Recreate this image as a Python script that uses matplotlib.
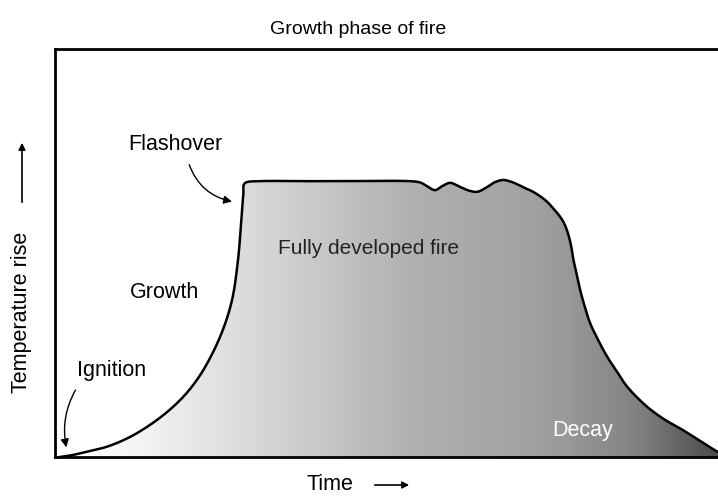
import numpy as np
import matplotlib
matplotlib.use("Agg")
import matplotlib.pyplot as plt
from matplotlib.colors import LinearSegmentedColormap

plt.rcParams['font.family'] = ['Liberation Sans', 'DejaVu Sans']

# fire curve (time 0-100, temperature rise 0-100)
time = [0.75, 2.7, 5.3, 7.8, 11.3, 15.4, 18.9, 21.4, 23.4, 25.3, 26.7, 27.6, 28.1, 28.4, 28.7,
        30.9, 37.0, 44.5, 54.8, 55.8, 57.3, 58.4, 59.6, 60.8, 62.6, 63.7, 64.9, 66.4, 67.6,
        68.9, 70.9, 72.1, 73.9, 75.1, 76.5, 77.2, 77.8, 78.1, 78.7, 79.2, 79.9, 80.7, 81.9,
        83.3, 84.8, 86.3, 89.3, 92.0, 94.7, 97.3, 100.0, 101.5]
temp = [0.0, 0.5, 1.5, 2.5, 4.9, 9.1, 14.0, 18.9, 24.3, 31.1, 38.5, 48.3, 58.1, 64.2, 67.2,
        67.6, 67.6, 67.6, 67.4, 66.7, 65.4, 66.4, 67.2, 66.4, 65.2, 65.0, 65.9, 67.4, 67.9,
        67.4, 65.9, 65.0, 63.0, 61.0, 58.1, 55.6, 52.0, 49.0, 44.6, 40.9, 36.8, 32.8, 28.7,
        24.5, 20.8, 17.2, 12.3, 9.1, 6.6, 3.9, 1.2, 0.0]


def smooth(xs, ys, n=12):
    # centripetal catmull-rom through the read points, just for a rounder line
    p = np.column_stack([xs, ys]).astype(float)
    p = np.vstack([p[0], p, p[-1]])
    out = []
    for i in range(1, len(p) - 2):
        p0, p1, p2, p3 = p[i - 1], p[i], p[i + 1], p[i + 2]
        t0 = 0.0
        t1 = t0 + max(np.linalg.norm(p1 - p0), 1e-6) ** 0.5
        t2 = t1 + max(np.linalg.norm(p2 - p1), 1e-6) ** 0.5
        t3 = t2 + max(np.linalg.norm(p3 - p2), 1e-6) ** 0.5
        for t in np.linspace(t1, t2, n, endpoint=False):
            a1 = (t1 - t) / (t1 - t0) * p0 + (t - t0) / (t1 - t0) * p1
            a2 = (t2 - t) / (t2 - t1) * p1 + (t - t1) / (t2 - t1) * p2
            a3 = (t3 - t) / (t3 - t2) * p2 + (t - t2) / (t3 - t2) * p3
            b1 = (t2 - t) / (t2 - t0) * a1 + (t - t0) / (t2 - t0) * a2
            b2 = (t3 - t) / (t3 - t1) * a2 + (t - t1) / (t3 - t1) * a3
            out.append((t2 - t) / (t2 - t1) * b1 + (t - t1) / (t2 - t1) * b2)
    out.append(p[-2])
    out = np.array(out)
    return out[:, 0], out[:, 1]


sx, sy = smooth(time, temp)

fig = plt.figure(figsize=(7.18, 4.97), dpi=100)
ax = fig.add_axes([55 / 718, 40 / 497, 685 / 718, 408 / 497])
ax.set_xlim(0, 103.3)
ax.set_ylim(0, 100)

# horizontal grey gradient inside the curve
shade = LinearSegmentedColormap.from_list('shade', ['#363636', '#565658', '#7e7f81', '#9a9b9d',
                                                     '#b0b0b2', '#d6d6d8', '#ffffff'])
gx = np.linspace(0, 103.3, 400)
gv = np.interp(gx, [5, 29, 52, 72, 86, 100], [1.0, 0.85, 0.68, 0.55, 0.38, 0.12])
im = ax.imshow(gv[np.newaxis, :], extent=[0, 103.3, 0, 100], aspect='auto',
               cmap=shade, vmin=0, vmax=1, zorder=1)
poly = ax.fill(sx, sy, facecolor='none', edgecolor='none')[0]
im.set_clip_path(poly)
ax.plot(sx, sy, color='black', lw=1.8, zorder=3, solid_joinstyle='round')

ax.set_xticks([])
ax.set_yticks([])
for s in ['left', 'top', 'bottom']:
    ax.spines[s].set_linewidth(2)
ax.spines['right'].set_visible(False)

fs = 15.5
ax.text(11.0, 76.5, 'Flashover', fontsize=fs, va='center', ha='left')
ax.annotate('', xy=(27.1, 62.5), xytext=(20.1, 72.3),
            arrowprops=dict(arrowstyle='-|>', color='black', lw=1,
                            connectionstyle='arc3,rad=0.3', mutation_scale=12))
ax.text(11.3, 40.2, 'Growth', fontsize=fs, va='center', ha='left')
ax.text(3.3, 21.3, 'Ignition', fontsize=fs, va='center', ha='left')
ax.annotate('', xy=(1.8, 1.7), xytext=(3.3, 17.0),
            arrowprops=dict(arrowstyle='-|>', color='black', lw=1,
                            connectionstyle='arc3,rad=0.2', mutation_scale=12))
ax.text(33.6, 51.2, 'Fully developed fire', fontsize=15, va='center', ha='left', color='#222222')
ax.text(75.0, 6.6, 'Decay', fontsize=fs, va='center', ha='left', color='white', zorder=4)

fig.text(358 / 718, 1 - 30 / 497, 'Growth phase of fire', fontsize=14, ha='center', va='center')
fig.text(330 / 718, 12 / 497, 'Time', fontsize=fs, ha='center', va='center')
ax.annotate('', xy=(412, 12), xytext=(372, 12), xycoords='figure pixels',
            arrowprops=dict(arrowstyle='-|>', color='black', lw=1.2, mutation_scale=10))
fig.text(22 / 718, 1 - 312 / 497, 'Temperature rise', fontsize=fs, ha='center', va='center',
         rotation=90)
ax.annotate('', xy=(22, 497 - 140), xytext=(22, 497 - 205), xycoords='figure pixels',
            arrowprops=dict(arrowstyle='-|>', color='black', lw=1.2, mutation_scale=10))

fig.savefig('out.png', dpi=100)
